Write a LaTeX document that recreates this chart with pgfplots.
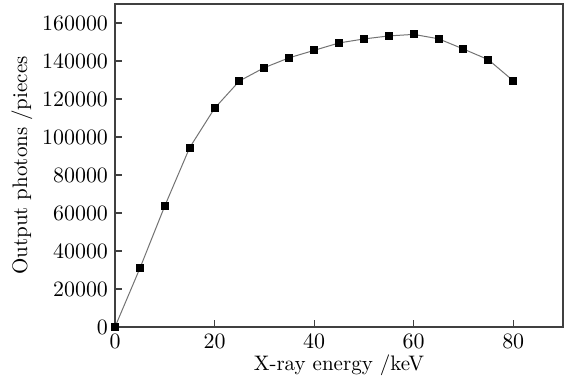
\documentclass[border=0pt]{standalone}
\usepackage{pgfplots}
\pgfplotsset{compat=1.18}
\begin{document}
\begin{tikzpicture}
\begin{axis}[
  at={(0,0)}, anchor=south west,
  scale only axis,
  width=224pt, height=161.5pt,
  xmin=0, xmax=90, ymin=0, ymax=170000,
  xtick={0,20,40,60,80},
  ytick={0,20000,40000,60000,80000,100000,120000,140000,160000},
  scaled y ticks=false,
  yticklabel style={/pgf/number format/1000 sep={}, /pgf/number format/fixed},
  tick align=inside,
  xtick pos=bottom, ytick pos=left,
  major tick length=3.5pt,
  tick style={black!75, line width=0.6pt},
  axis line style={black!75, line width=0.6pt},
  ticklabel style={font=\fontsize{10.5}{12}\selectfont},
  label style={font=\fontsize{10.5}{12}\selectfont},
  xlabel={X-ray energy /keV},
  ylabel={Output photons /pieces},
  xlabel style={at={(axis description cs:0.5,-0.1176)}, anchor=center},
  ylabel style={at={(axis description cs:-0.2076,0.5)}, anchor=center},
  clip=false,
]
\addplot[color=black!55, line width=0.5pt, mark=square*, mark size=1.75pt,
  mark options={fill=black, draw=black}] coordinates {
  (0,0) (5,30900) (10,63700) (15,94400) (20,115100) (25,129500) (30,136500)
  (35,141700) (40,145600) (45,149500) (50,151600) (55,153200) (60,154000)
  (65,151700) (70,146300) (75,140700) (80,129600)
};
\end{axis}
\pgfresetboundingbox
\path[use as bounding box] (-57.5pt,-27pt) rectangle (224.5pt,163.5pt);
\end{tikzpicture}
\end{document}
